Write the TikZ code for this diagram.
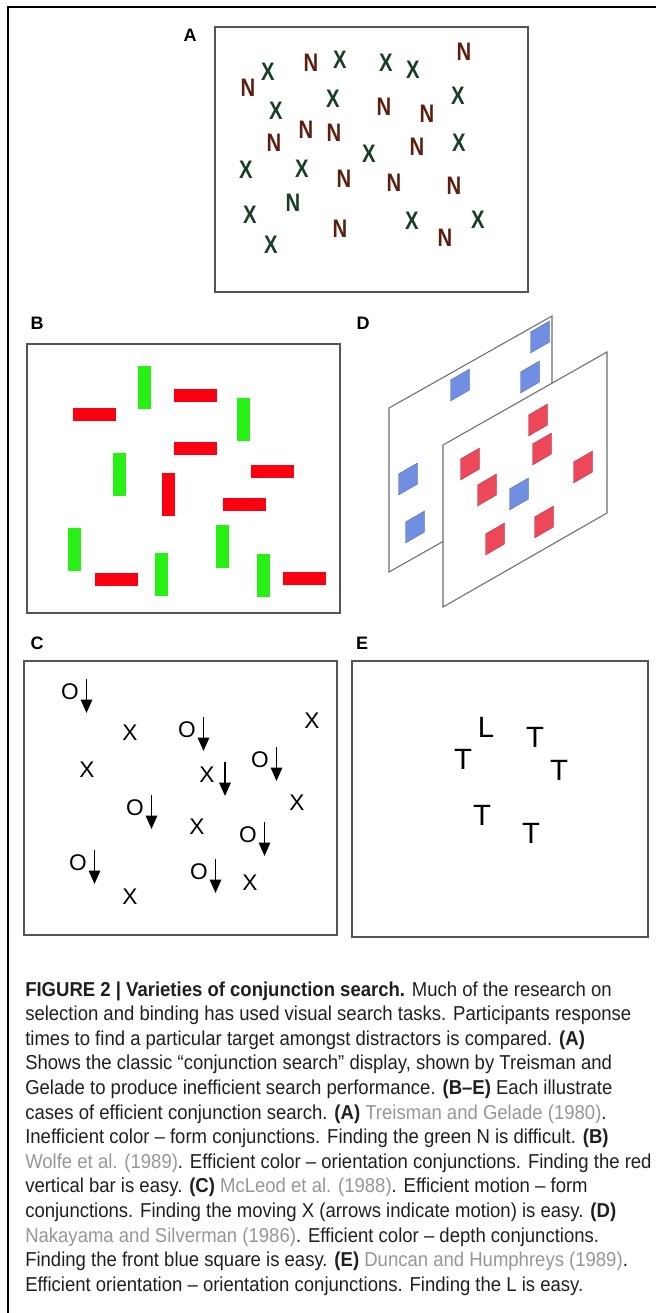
\documentclass[tikz,border=0pt]{standalone}
\usepackage{fontspec}
\setmainfont{Liberation Sans}
\newfontfamily\capfont[FakeStretch=0.92]{Liberation Sans}
\newfontfamily\glyphfont[FakeStretch=0.8]{Liberation Sans}
\usetikzlibrary{arrows.meta}

\definecolor{colN}{RGB}{92,30,14}
\definecolor{colX}{RGB}{24,62,38}
\definecolor{barG}{RGB}{40,240,20}
\definecolor{barR}{RGB}{250,0,16}
\definecolor{sqB}{RGB}{112,142,226}
\definecolor{sqR}{RGB}{236,72,90}
\definecolor{citegray}{RGB}{150,150,150}
\definecolor{frame}{RGB}{85,85,85}
\newcommand{\refgray}[1]{\textcolor{citegray}{#1}}

\begin{document}
\begin{tikzpicture}[x=0.75pt,y=0.75pt,yscale=-1,xscale=1,
  panel/.style={draw=frame, line width=0.9pt},
  plabel/.style={font=\bfseries\fontsize{13.5}{13.5}\selectfont, inner sep=0pt},
  letN/.style={text=colN, font=\glyphfont\bfseries\fontsize{19}{19}\selectfont, inner sep=0pt},
  letX/.style={text=colX, font=\glyphfont\bfseries\fontsize{19}{19}\selectfont, inner sep=0pt},
  glyphC/.style={font=\fontsize{17}{17}\selectfont, inner sep=0pt},
  glyphE/.style={font=\fontsize{22}{22}\selectfont, inner sep=0pt},
  motion/.style={line width=1.3pt, -{Triangle[length=10pt,width=8.5pt]}},
  plane/.style={draw=frame!85, fill=white, line width=0.8pt},
  sqblue/.style={fill=sqB, draw=sqB!75!black, line width=0.3pt},
  sqred/.style={fill=sqR, draw=sqR!75!black, line width=0.3pt},
  capline/.style={anchor=base west, inner sep=0pt, font=\capfont\fontsize{15.1}{18}\selectfont, text=black!88}
]
\useasboundingbox (0,0) rectangle (656,1313);

%Straight Lines: outer frame
\draw [line width=1.5pt] (656,7) -- (8,7) -- (8,1313) ;

%Shape: Rectangle: panel A
\draw [panel] (215,27) rectangle (528,292) ;
% Text Node
\node [plabel] (labA) at (190,35) {A};
% N letters (the green one is the target)
\foreach \x/\y [count=\i] in {248/88,311/63,464/52,384/107,427/114,274/143,306/130,334/133,417/147,344/179,394/183,454/186,340/229,445/238}
  \node [letN] (an\i) at (\x,\y) {N};
\node [letX] (anT) at (293,203) {N};
% X letters
\foreach \x/\y [count=\i] in {268/72,340/60,386/63,413/70,276/111,333/99,458/96,369/154,459/143,246/170,302/169,250/215,271/245,412/221,478/220}
  \node [letX] (ax\i) at (\x,\y) {X};

%Shape: Rectangle: panel B
\draw [panel] (27,344) rectangle (340,613) ;
% Text Node
\node [plabel] (labB) at (37,323) {B};
% green vertical bars
\foreach \x/\y in {138/366,237/398,113/453,68/528,155/553,216/525,257/554}
  \fill [barG] (\x,\y) rectangle ++(12.5,43) ;
% red horizontal bars
\foreach \x/\y in {73/408,174/389,174/442,251/465,223/498,95/573,283/572}
  \fill [barR] (\x,\y) rectangle ++(43,12.5) ;
% red vertical bar
\fill [barR] (162,473) rectangle ++(12.5,43) ;

% Text Node
\node [plabel] (labD) at (363,323) {D};
%Shape: back plane
\filldraw [plane] (389,408) -- (552,316) -- (552,480) -- (389,572) -- cycle ;
\foreach \x/\y in {540/337,530/377,460/385,408/479,415/527}
  \filldraw [sqblue] (\x-9.5,\y-5) -- (\x+9.5,\y-16) -- (\x+9.5,\y+5) -- (\x-9.5,\y+16) -- cycle ;
%Shape: front plane
\filldraw [plane] (443,445) -- (607,352) -- (607,513) -- (443,607) -- cycle ;
\foreach \x/\y in {538/420,542/449,470/464,487/490,583/467,495/539,544/522}
  \filldraw [sqred] (\x-9.5,\y-5) -- (\x+9.5,\y-16) -- (\x+9.5,\y+5) -- (\x-9.5,\y+16) -- cycle ;
\filldraw [sqblue] (519-9.5,494-5) -- (519+9.5,494-16) -- (519+9.5,494+5) -- (519-9.5,494+16) -- cycle ;

%Shape: Rectangle: panel C
\draw [panel] (24,661) rectangle (337,935) ;
% Text Node
\node [plabel] (labC) at (37,643) {C};
\foreach \x/\y [count=\i] in {70/692,187/730,260/760,135/808,248/835,78/863,199/872}
  {\node [glyphC] (co\i) at (\x,\y) {O};
   \draw [motion] (\x+16.5,\y-13) -- (\x+16.5,\y+21) ;}
\foreach \x/\y [count=\i] in {130/733,87/770,312/721,297/803,197/827,130/897,250/883}
  \node [glyphC] (cx\i) at (\x,\y) {X};
\node [glyphC] (cxT) at (207,775) {X};
\draw [motion] (225,762) -- (225,796) ;

%Shape: Rectangle: panel E
\draw [panel] (352,661) rectangle (648,937) ;
% Text Node
\node [plabel] (labE) at (362,643) {E};
\node [glyphE] (eL) at (486,727) {L};
\foreach \x/\y [count=\i] in {535/737,463/759,559/770,482/815,531/833}
  \node [glyphE] (eT\i) at (\x,\y) {T};

% caption
\node [capline] (cap1) at (25,996) {\textbf{FIGURE 2 | Varieties of conjunction search.} Much of the research on};
\node [capline] (cap2) at (25,1020.6) {selection and binding has used visual search tasks. Participants response};
\node [capline] (cap3) at (25,1045.2) {times to find a particular target amongst distractors is compared. \textbf{(A)}};
\node [capline] (cap4) at (25,1069.8) {Shows the classic “conjunction search” display, shown by Treisman and};
\node [capline] (cap5) at (25,1094.4) {Gelade to produce inefficient search performance. \textbf{(B–E)} Each illustrate};
\node [capline] (cap6) at (25,1119) {cases of efficient conjunction search. \textbf{(A)} \refgray{Treisman and Gelade (1980)}.};
\node [capline] (cap7) at (25,1143.6) {Inefficient color – form conjunctions. Finding the green N is difficult. \textbf{(B)}};
\node [capline] (cap8) at (25,1168.2) {\refgray{Wolfe et al. (1989)}. Efficient color – orientation conjunctions. Finding the red};
\node [capline] (cap9) at (25,1192.8) {vertical bar is easy. \textbf{(C)} \refgray{McLeod et al. (1988)}. Efficient motion – form};
\node [capline] (cap10) at (25,1217.4) {conjunctions. Finding the moving X (arrows indicate motion) is easy. \textbf{(D)}};
\node [capline] (cap11) at (25,1242) {\refgray{Nakayama and Silverman (1986)}. Efficient color – depth conjunctions.};
\node [capline] (cap12) at (25,1266.6) {Finding the front blue square is easy. \textbf{(E)} \refgray{Duncan and Humphreys (1989)}.};
\node [capline] (cap13) at (25,1291.2) {Efficient orientation – orientation conjunctions. Finding the L is easy.};

\end{tikzpicture}
\end{document}
